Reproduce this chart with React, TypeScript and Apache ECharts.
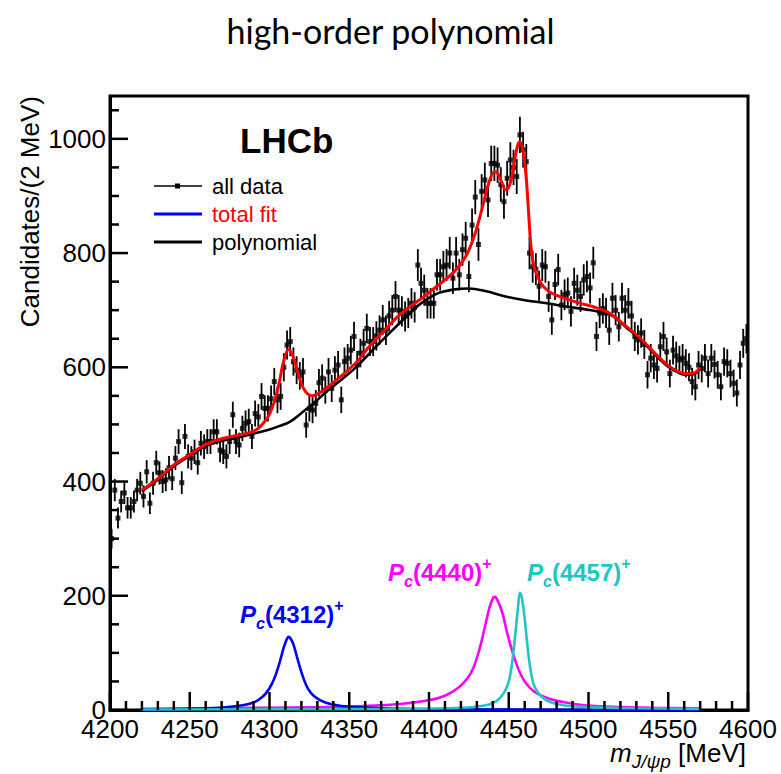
import React, { useEffect, useRef } from 'react';
import * as echarts from 'echarts';

// ---- data ----
const binStart = 4201; // centre of first 2 MeV bin
const binWidth = 2;
const counts = [
  300, 385, 336, 365, 380, 354, 354, 365, 385, 397,
  374, 417, 362, 397, 433, 415, 400, 403, 424, 405,
  441, 470, 398, 479, 444, 441, 452, 433, 467, 461,
  470, 470, 487, 487, 455, 452, 444, 470, 517, 470,
  464, 493, 502, 505, 479, 519, 513, 549, 528, 528,
  545, 575, 543, 549, 600, 639, 645, 610, 595, 585,
  592, 499, 528, 525, 537, 573, 581, 560, 592, 563,
  595, 604, 543, 610, 616, 630, 654, 604, 625, 642,
  668, 645, 645, 655, 665, 683, 665, 690, 700, 724,
  700, 698, 689, 695, 712, 705, 779, 747, 735, 712,
  712, 712, 762, 762, 776, 779, 800, 756, 800, 762,
  806, 826, 759, 849, 898, 815, 908, 928, 893, 957,
  957, 954, 920, 890, 931, 963, 950, 934, 1007, 981,
  960, 800, 776, 772, 742, 779, 776, 724, 683, 745,
  771, 709, 727, 730, 698, 747, 735, 724, 753, 759,
  739, 783, 654, 695, 703, 695, 665, 721, 700, 671,
  721, 700, 712, 690, 654, 648, 660, 640, 587, 616,
  604, 598, 636, 654, 627, 589, 630, 620, 613, 616,
  607, 600, 575, 566, 604, 598, 616, 589, 616, 605,
  587, 566, 610, 607, 589, 572, 555, 604, 642, 650,
];

const totalFit: [number, number][] = [
  [4220, 385], [4230, 405], [4240, 429], [4250, 447], [4260, 465], [4270, 475],
  [4280, 481], [4288, 486], [4293, 493], [4297, 505], [4300, 518], [4303, 540],
  [4306, 572], [4309, 612], [4312, 631], [4315, 617], [4318, 588], [4321, 565],
  [4324, 553], [4327, 550], [4330, 553], [4335, 562], [4345, 585], [4355, 610],
  [4363, 638], [4372, 664], [4380, 688], [4388, 706], [4396, 722], [4404, 740],
  [4410, 753], [4416, 768], [4421, 785], [4425, 805], [4429, 835], [4433, 875],
  [4437, 918], [4440, 940], [4442, 942], [4445, 928], [4448, 911], [4450, 915],
  [4452, 935], [4454, 968], [4456, 992], [4457, 995], [4459, 978], [4461, 930],
  [4462, 890], [4464, 810], [4466, 775], [4470, 748], [4475, 733], [4480, 726],
  [4488, 718], [4496, 711], [4503, 706], [4513, 695], [4524, 671], [4530, 657],
  [4537, 638], [4544, 618], [4550, 603], [4556, 593], [4560, 589], [4566, 590],
  [4570, 600],
];

const polynomial: [number, number][] = [
  [4220, 383], [4230, 403], [4240, 427], [4250, 445], [4260, 462], [4270, 471],
  [4280, 477], [4290, 484], [4300, 491], [4306, 497], [4313, 505], [4321, 522],
  [4328, 538], [4336, 558], [4345, 578], [4355, 602], [4366, 634], [4376, 662],
  [4387, 692], [4395, 712], [4405, 729], [4415, 736], [4425, 738], [4436, 733],
  [4448, 724], [4461, 717], [4474, 712], [4487, 706], [4499, 701], [4507, 697],
  [4515, 690], [4524, 669], [4530, 655], [4537, 636], [4544, 616], [4550, 601],
  [4556, 591], [4560, 587], [4566, 588], [4570, 598],
];

const pc4312: [number, number][] = [
  [4220, 1], [4260, 3], [4280, 7], [4290, 13], [4296, 24], [4300, 38], [4303, 55],
  [4306, 80], [4309, 110], [4311, 125], [4312, 128], [4313, 126], [4315, 115],
  [4318, 85], [4321, 58], [4324, 38], [4328, 24], [4335, 13], [4345, 7], [4370, 3],
  [4420, 1], [4570, 0],
];

const pc4440: [number, number][] = [
  [4220, 2], [4300, 4], [4350, 6], [4380, 10], [4400, 17], [4410, 25], [4418, 38],
  [4424, 55], [4428, 75], [4432, 110], [4435, 145], [4438, 180], [4440, 195],
  [4441, 198], [4443, 192], [4446, 170], [4449, 135], [4452, 105], [4456, 72],
  [4460, 50], [4466, 32], [4475, 20], [4490, 11], [4510, 6], [4540, 4], [4570, 3],
];

const pc4457: [number, number][] = [
  [4220, 1], [4380, 2], [4420, 4], [4435, 8], [4442, 15], [4447, 30], [4450, 50],
  [4452, 80], [4454, 130], [4456, 185], [4457, 205], [4458, 200], [4460, 160],
  [4462, 105], [4464, 65], [4466, 42], [4470, 25], [4476, 14], [4485, 8], [4500, 5],
  [4530, 3], [4570, 2],
];

// tick positions
const xMajorTicks = [4200, 4250, 4300, 4350, 4400, 4450, 4500, 4550, 4600];
const xMinorTicks = [
  4210, 4220, 4230, 4240, 4260, 4270, 4280, 4290, 4310, 4320, 4330, 4340,
  4360, 4370, 4380, 4390, 4410, 4420, 4430, 4440, 4460, 4470, 4480, 4490,
  4510, 4520, 4530, 4540, 4560, 4570, 4580, 4590,
];
const yMajorTicks = [0, 200, 400, 600, 800, 1000];
const yMinorTicks = [50, 100, 150, 250, 300, 350, 450, 500, 550, 650, 700, 750, 850, 900, 950, 1050];

const legendLabels = ['all data', 'total fit', 'polynomial'];
const stateNames = ['(4312)', '(4440)', '(4457)'];
const titleText = 'high-order polynomial';
const yTitle = 'Candidates/(2 MeV)';

const FONT = 'Liberation Sans, Arial, Helvetica, sans-serif';
const X_MIN = 4200;
const X_MAX = 4600;
const Y_MIN = 0;
const Y_MAX = 1075;
const MAJOR_LEN = 18;
const MINOR_LEN = 9;

function pcRich(color: string) {
  return {
    p: { fontSize: 24, fontStyle: 'italic', fontWeight: 'bold', lineHeight: 34, fontFamily: FONT, fill: color, color },
    s: { fontSize: 16, fontStyle: 'italic', fontWeight: 'bold', lineHeight: 12, verticalAlign: 'bottom', fontFamily: FONT, fill: color, color },
    n: { fontSize: 24, fontWeight: 'bold', lineHeight: 34, fontFamily: FONT, fill: color, color },
    u: { fontSize: 16, fontWeight: 'bold', lineHeight: 12, verticalAlign: 'top', fontFamily: FONT, fill: color, color },
  };
}

export default function App() {
  const ref = useRef<HTMLDivElement>(null);
  useEffect(() => {
    const chart = echarts.init(ref.current!, null, { renderer: 'svg' });
    const points = counts.map((v, i) => [binStart + binWidth * i, v]);
    const errData = counts.map((v, i) => [binStart + binWidth * i, v, Math.sqrt(v)]);
    const tickData = [
      ...xMajorTicks.map((v) => [v, Y_MIN, 0, MAJOR_LEN]),
      ...xMinorTicks.map((v) => [v, Y_MIN, 0, MINOR_LEN]),
      ...yMajorTicks.map((v) => [X_MIN, v, 1, MAJOR_LEN]),
      ...yMinorTicks.map((v) => [X_MIN, v, 1, MINOR_LEN]),
    ];

    const lineSeries = (name: string, data: [number, number][], color: string, width: number, z: number) => ({
      name,
      type: 'line',
      data,
      showSymbol: false,
      symbol: 'none',
      smooth: 0.35,
      lineStyle: { color, width },
      z,
      silent: true,
    });

    const graphics: any[] = [
      // LHCb
      { type: 'text', x: 240, y: 140, z: 10, style: { text: 'LHCb', font: `bold 35px ${FONT}`, fill: '#000', textVerticalAlign: 'middle' } },
      // legend
      { type: 'line', z: 10, shape: { x1: 154, y1: 186, x2: 202, y2: 186 }, style: { stroke: '#000', lineWidth: 1.5 } },
      { type: 'rect', z: 10, shape: { x: 175, y: 183.5, width: 5, height: 5 }, style: { fill: '#000' } },
      { type: 'line', z: 10, shape: { x1: 154, y1: 214, x2: 202, y2: 214 }, style: { stroke: '#0000ff', lineWidth: 3 } },
      { type: 'line', z: 10, shape: { x1: 154, y1: 242, x2: 202, y2: 242 }, style: { stroke: '#000', lineWidth: 3 } },
      { type: 'text', z: 10, x: 212, y: 186, style: { text: legendLabels[0], font: `22px ${FONT}`, fill: '#000', textVerticalAlign: 'middle' } },
      { type: 'text', z: 10, x: 212, y: 214, style: { text: legendLabels[1], font: `22px ${FONT}`, fill: '#ff0000', textVerticalAlign: 'middle' } },
      { type: 'text', z: 10, x: 212, y: 242, style: { text: legendLabels[2], font: `22px ${FONT}`, fill: '#000', textVerticalAlign: 'middle' } },
      // state labels
      { type: 'text', z: 10, x: 240, y: 614, style: { text: `{p|P}{s|c}{n|${stateNames[0]}}{u|+}`, rich: pcRich('#0000ff'), fill: '#0000ff', textVerticalAlign: 'middle' } },
      { type: 'text', z: 10, x: 388, y: 572, style: { text: `{p|P}{s|c}{n|${stateNames[1]}}{u|+}`, rich: pcRich('#ff00ff'), fill: '#ff00ff', textVerticalAlign: 'middle' } },
      { type: 'text', z: 10, x: 527, y: 572, style: { text: `{p|P}{s|c}{n|${stateNames[2]}}{u|+}`, rich: pcRich('#22c4c4'), fill: '#22c4c4', textVerticalAlign: 'middle' } },
      // axis titles
      {
        type: 'text', z: 10, x: 746, y: 753,
        style: {
          text: '{m|m}{s|J/\u03c8p}{u| [MeV]}',
          textAlign: 'right', textVerticalAlign: 'middle', fill: '#000',
          rich: {
            m: { fontSize: 26, fontStyle: 'italic', fontFamily: FONT, lineHeight: 36, fill: '#000' },
            s: { fontSize: 19, fontStyle: 'italic', fontFamily: FONT, lineHeight: 10, verticalAlign: 'bottom', fill: '#000' },
            u: { fontSize: 26, fontFamily: FONT, lineHeight: 36, fill: '#000' },
          },
        },
      },
      {
        type: 'text', z: 10, x: 30, y: 96, rotation: Math.PI / 2,
        style: { text: yTitle, font: `26px ${FONT}`, fill: '#000', textAlign: 'right', textVerticalAlign: 'middle' },
      },
    ];

    const option: any = {
      animation: false,
      backgroundColor: '#fff',
      title: {
        text: titleText,
        left: 'center',
        top: 8,
        textStyle: { fontSize: 34, fontFamily: 'Lato, Open Sans, sans-serif', fontWeight: 'normal', color: '#000' },
      },
      grid: {
        left: 110, right: 33, top: 96, bottom: 64,
        show: true, borderColor: '#000', borderWidth: 3, backgroundColor: 'transparent',
      },
      xAxis: {
        type: 'value', min: X_MIN, max: X_MAX, interval: 50,
        axisLine: { show: true, onZero: false, lineStyle: { color: '#000', width: 3 } },
        axisTick: { show: false },
        minorTick: { show: false },
        axisLabel: { fontSize: 26, color: '#000', fontFamily: FONT, margin: 6, formatter: (v: number) => String(v) },
        splitLine: { show: false },
        minorSplitLine: { show: false },
      },
      yAxis: {
        type: 'value', min: Y_MIN, max: Y_MAX, interval: 200,
        axisLine: { show: true, onZero: false, lineStyle: { color: '#000', width: 3 } },
        axisTick: { show: false },
        axisLabel: { fontSize: 26, color: '#000', fontFamily: FONT, margin: 4, showMaxLabel: false, formatter: (v: number) => (v % 200 === 0 ? String(v) : '') },
        splitLine: { show: false },
      },
      series: [
        {
          name: 'ticks',
          type: 'custom',
          data: tickData,
          encode: { x: 0, y: 1 },
          z: 20,
          zlevel: 0,
          silent: true,
          clip: false,
          renderItem: (params: any, api: any) => {
            const p = api.coord([api.value(0), api.value(1)]);
            const vertical = api.value(2) === 1;
            const len = api.value(3);
            return {
              type: 'rect',
              shape: vertical
                ? { x: p[0], y: p[1] - 1.25, width: len, height: 2.5 }
                : { x: p[0] - 1.25, y: p[1] - len, width: 2.5, height: len },
              style: { fill: '#000' },
            };
          },
        },
        {
          name: 'errors',
          type: 'custom',
          data: errData,
          encode: { x: 0, y: 1 },
          z: 2,
          silent: true,
          renderItem: (params: any, api: any) => {
            const x = api.value(0);
            const y = api.value(1);
            const e = api.value(2);
            const p1 = api.coord([x, y - e]);
            const p2 = api.coord([x, y + e]);
            return {
              type: 'line',
              shape: { x1: p1[0], y1: p1[1], x2: p2[0], y2: p2[1] },
              style: { stroke: '#000', lineWidth: 1.8 },
            };
          },
        },
        {
          name: 'all data',
          type: 'scatter',
          data: points,
          symbol: 'rect',
          symbolSize: 5,
          itemStyle: { color: '#000' },
          z: 3,
          silent: true,
        },
        lineSeries('polynomial', polynomial, '#000', 2.6, 4),
        lineSeries('total fit', totalFit, '#ff0000', 3, 5),
        lineSeries('Pc4440', pc4440, '#ff00ff', 2.6, 4),
        lineSeries('Pc4312', pc4312, '#0000ff', 2.6, 4),
        lineSeries('Pc4457', pc4457, '#22c4c4', 2.6, 4),
      ],
      graphic: graphics,
    };
    chart.setOption(option);
    return () => chart.dispose();
  }, []);
  return (
    <div
      ref={ref}
      style={{ position: 'absolute', left: 0, top: 0, width: 781, height: 774, background: '#fff' }}
    />
  );
}
